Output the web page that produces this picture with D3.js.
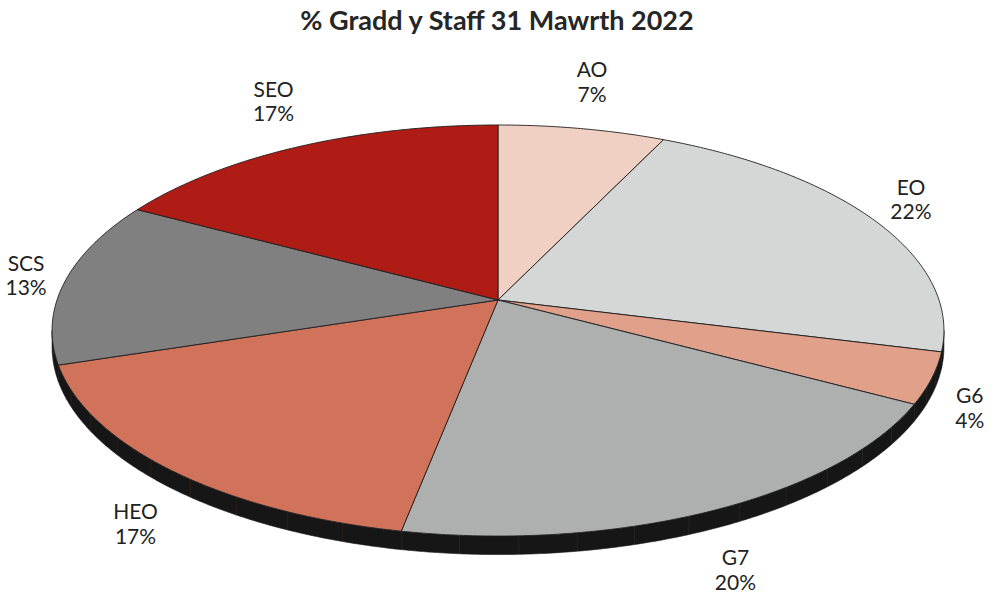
<!DOCTYPE html>
<html>
<head>
<meta charset="utf-8">
<script src="https://cdn.jsdelivr.net/npm/d3@7"></script>
<style>
  html, body { margin: 0; padding: 0; background: #ffffff; }
  svg { display: block; }
</style>
</head>
<body>
<svg id="chart" width="994" height="600"></svg>
<script>
// ---- data ----
const title = "% Gradd y Staff 31 Mawrth 2022";
const categories = ["AO", "EO", "G6", "G7", "HEO", "SCS", "SEO"];
const values = [7, 22, 4, 20, 17, 13, 17];
const colors = ["#f1d0c4", "#d5d7d6", "#e0a08a", "#aeb0af", "#d0735a", "#808080", "#af1c15"];

// ---- layout / projection ----
const W = 994, H = 600;
const cx = 498, cy = 300;   // projected pie centre
const A = 441, B = 201;     // horizontal / vertical projection radii
const k = 0.1485;           // perspective strength
const T = 15.75;            // thickness of the pie

const svg = d3.select("#chart");

const pie = d3.pie().sort(null).value(d => d).startAngle(0).endAngle(2 * Math.PI);
const arcs = pie(values);
const total = d3.sum(values);

function project(a, r = 1, drop = 0) {
  const u = r * Math.sin(a), v = r * Math.cos(a);
  const den = 1 + k * v;
  return [cx + A * u / den, cy - B * v / den + drop * T / den];
}

const line = d3.line().curve(d3.curveLinear);
const step = Math.PI / 360;

function arcPoints(a0, a1, drop) {
  const n = Math.max(2, Math.ceil((a1 - a0) / step));
  return d3.range(n + 1).map(i => project(a0 + (a1 - a0) * i / n, 1, drop));
}

// ---- side wall (visible front part) ----
const aL = Math.acos(-k), aR = 2 * Math.PI - aL;
const gWall = svg.append("g");
arcs.forEach((d, i) => {
  const s = Math.max(d.startAngle, aL), e = Math.min(d.endAngle, aR);
  if (e <= s) return;
  const top = arcPoints(s, e, 0);
  const bot = arcPoints(s, e, 1).reverse();
  gWall.append("path")
    .attr("d", line(top.concat(bot)) + "Z")
    .attr("fill", "#161616")
    .attr("stroke", "#161616")
    .attr("stroke-width", 0.6);
  const nF = Math.floor((e - s) / 0.12);
  for (let j = 1; j <= nF; j++) {
    const a = s + (e - s) * j / (nF + 1);
    gWall.append("path")
      .attr("d", line([project(a, 1, 0), project(a, 1, 1)]))
      .attr("stroke", d3.color(colors[i]).darker(2.2))
      .attr("stroke-opacity", 0.35)
      .attr("stroke-width", 0.7);
  }
});

// ---- top faces ----
const gTop = svg.append("g");
arcs.forEach((d, i) => {
  const pts = [[cx, cy]].concat(arcPoints(d.startAngle, d.endAngle, 0));
  gTop.append("path")
    .attr("d", line(pts) + "Z")
    .attr("fill", colors[i])
    .attr("stroke", "#1e1e1e")
    .attr("stroke-width", 0.9)
    .attr("stroke-linejoin", "round");
});

// ---- labels ----
const hw = 25, hh = 31, gap = 14;
const gLab = svg.append("g")
  .attr("font-family", "Lato, 'Open Sans', sans-serif")
  .attr("font-size", 21)
  .attr("fill", "#222222")
  .attr("text-anchor", "middle");

arcs.forEach((d, i) => {
  const a = (d.startAngle + d.endAngle) / 2;
  const dx = Math.sin(a), dy = -Math.cos(a);
  const P = project(a, 1, Math.cos(a) < 0 ? 1 : 0);
  const t = gap + Math.min(hw / Math.max(Math.abs(dx), 1e-6), hh / Math.max(Math.abs(dy), 1e-6));
  const lx = P[0] + dx * t, ly = P[1] + dy * t;
  const pct = d3.format(".0%")(d.data / total);
  gLab.append("text").attr("x", lx).attr("y", ly - 12.3)
    .attr("dominant-baseline", "middle").text(categories[i]);
  gLab.append("text").attr("x", lx).attr("y", ly + 12.3)
    .attr("dominant-baseline", "middle").text(pct);
});

// ---- title ----
svg.append("text")
  .attr("x", W / 2)
  .attr("y", 23)
  .attr("text-anchor", "middle")
  .attr("dominant-baseline", "middle")
  .attr("font-family", "Lato, 'Open Sans', sans-serif")
  .attr("font-weight", 700)
  .attr("font-size", 27)
  .attr("fill", "#262626")
  .text(title);
</script>
</body>
</html>
